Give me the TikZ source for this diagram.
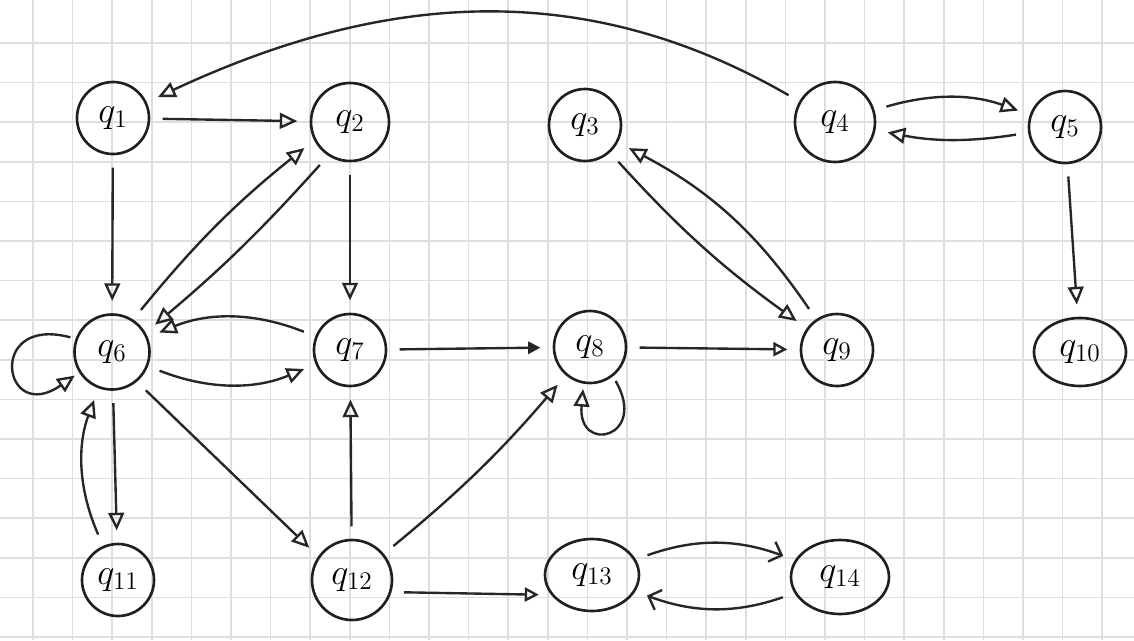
\documentclass[tikz,border=0pt]{standalone}
\usetikzlibrary{arrows.meta,shapes.geometric}
\begin{document}
\begin{tikzpicture}[x=0.02cm,y=0.02cm,
  state/.style={draw=black!88,line width=1.5pt,circle,minimum size=72*0.02cm,inner sep=0pt,font=\fontsize{21}{24}\selectfont},
  edge/.style={draw=black!85,line width=1.35pt,-{Triangle[open,length=10pt,width=9pt]},shorten >=7pt,shorten <=7pt},
  barb/.style={draw=black!85,line width=1.35pt,-{Straight Barb[length=6pt,width=12pt]},shorten >=7pt,shorten <=7pt},
  gridline/.style={draw=black!13,line width=1pt}]
\useasboundingbox (0,0) rectangle (1134,-640);
\fill[white] (0,0) rectangle (1134,-640);
% grid paper
\foreach \i in {0,...,28} {\draw[gridline] (33+39.6*\i,0) -- (33+39.6*\i,-640);}
\foreach \j in {0,...,15} {\draw[gridline] (0,-43-39.6*\j) -- (1134,-43-39.6*\j);}
% states
\node[state] (q1) at (113,-118) {$q_{1}$};
\node[state,minimum size=78*0.02cm] (q2) at (350,-122) {$q_{2}$};
\node[state] (q3) at (585,-125) {$q_{3}$};
\node[state,minimum size=80*0.02cm] (q4) at (835,-122) {$q_{4}$};
\node[state] (q5) at (1065,-127) {$q_{5}$};
\node[state,minimum size=75*0.02cm] (q6) at (112,-352) {$q_{6}$};
\node[state] (q7) at (350,-350) {$q_{7}$};
\node[state] (q8) at (590,-347) {$q_{8}$};
\node[state] (q9) at (837,-350) {$q_{9}$};
\node[state,ellipse,minimum width=92*0.02cm,minimum height=68*0.02cm] (q10) at (1080,-352) {$q_{10}$};
\node[state] (q11) at (118,-580) {$q_{11}$};
\node[state,minimum size=80*0.02cm] (q12) at (352,-580) {$q_{12}$};
\node[state,ellipse,minimum width=94*0.02cm,minimum height=72*0.02cm] (q13) at (592,-575) {$q_{13}$};
\node[state,ellipse,minimum width=98*0.02cm,minimum height=74*0.02cm] (q14) at (840,-577) {$q_{14}$};
% edges
\draw[edge] (q4) to[out=150,in=25] (q1);
\draw[edge] (q1) -- (q2);
\draw[edge] (q4) to[bend left=18] (q5);
\draw[edge] (q5) to[bend left=10] (q4);
\draw[edge] (q5) -- (q10);
\draw[edge] (q1) -- (q6);
\draw[edge] (q6.57) to[bend left=6] (q2.207);
\draw[edge] (q2.237) to[bend left=4] (q6.30);
\draw[edge] (q2) -- (q7);
\draw[edge] (q3) to[bend right=6] (q9);
\draw[edge] (q9) to[bend right=14] (q3);
\draw[edge,shorten >=3pt,shorten <=3pt] (q6.160) to[out=165,in=215,looseness=7] (q6.212);
\draw[edge] (q7) to[bend right=22] (q6);
\draw[edge] (q6) to[bend right=22] (q7);
\draw[edge,-{Triangle[length=7pt,width=7pt]}] (q7) -- (q8);
\draw[edge,-{Triangle[open,length=8pt,width=8pt]}] (q8) -- (q9);
\draw[edge,shorten >=3pt,shorten <=3pt] (q8.-52) to[out=-60,in=-95,looseness=6] (q8.-100);
\draw[edge] (q6) -- (q11);
\draw[edge] (q11) to[bend left=22] (q6);
\draw[edge] (q6.-50) -- (q12.145);
\draw[edge] (q12) -- (q7);
\draw[edge] (q12) to[bend right=5] (q8);
\draw[edge,-{Triangle[open,length=8pt,width=8pt]}] (q12.-17) -- (q13.206);
\draw[barb] (q13) to[bend left=20] (q14);
\draw[barb] (q14) to[bend left=20] (q13);
\end{tikzpicture}
\end{document}
